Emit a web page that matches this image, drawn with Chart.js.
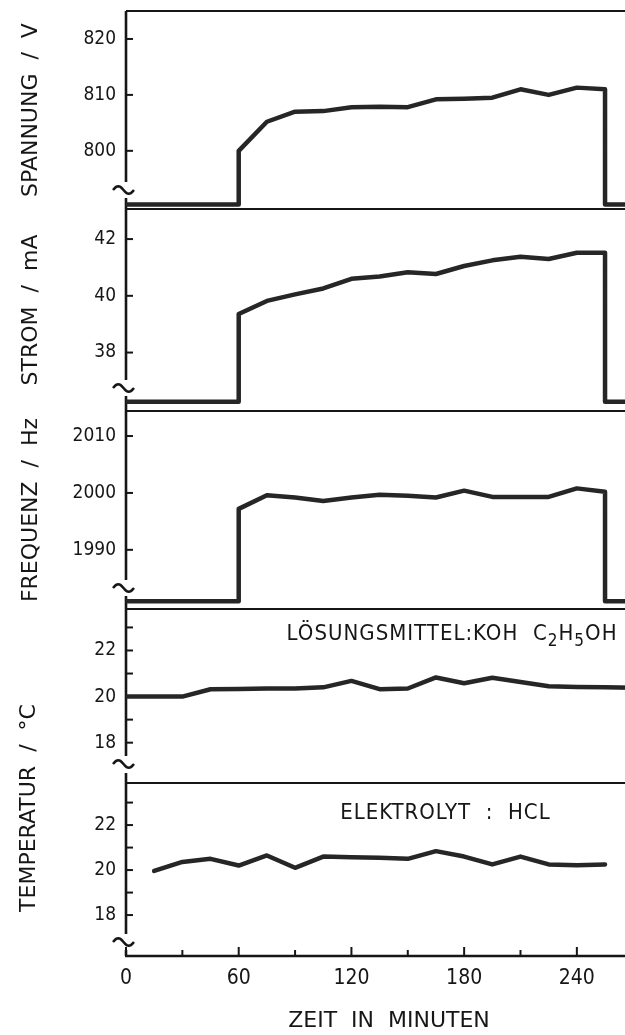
<!DOCTYPE html>
<html lang="de">
<head>
<meta charset="utf-8">
<title>Spannung, Strom, Frequenz und Temperatur über der Zeit</title>
<script src="https://cdn.jsdelivr.net/npm/chart.js@4.4.1/dist/chart.umd.min.js"></script>
<style>
  html, body { margin: 0; padding: 0; background: #fff; overflow: hidden; }
  canvas { display: block; }
</style>
</head>
<body>
<canvas id="messung" width="652" height="1035"></canvas>
<script>
// Ablesezeitpunkte in Minuten (alle 15 min), Anlage läuft von 60 bis 255 min
var zeitEin = [60, 75, 90, 105, 120, 135, 150, 165, 180, 195, 210, 225, 240, 255];
var spannung = [800.0, 805.2, 807.0, 807.1, 807.8, 807.9, 807.8, 809.2, 809.3, 809.5, 811.0, 810.0, 811.3, 811.0];
var strom = [39.36, 39.82, 40.05, 40.26, 40.6, 40.68, 40.83, 40.77, 41.05, 41.25, 41.38, 41.3, 41.52, 41.52];
var frequenz = [1997.2, 1999.6, 1999.2, 1998.6, 1999.2, 1999.7, 1999.5, 1999.2, 2000.4, 1999.3, 1999.3, 1999.3, 2000.8, 2000.2];

// Anzeige unterhalb des Achsenbruchs, solange nichts anliegt
var spannungAus = 790.4;
var stromAus = 36.27;
var frequenzAus = 1980.95;
var anfang = 0;
var ende = 280;

// Temperaturen
var zeitLoesung = [0, 15, 30, 45, 60, 75, 90, 105, 120, 135, 150, 165, 180, 195, 210, 225, 240, 255, 270];
var tempLoesung = [20.0, 20.0, 20.0, 20.32, 20.33, 20.35, 20.35, 20.4, 20.68, 20.32, 20.35, 20.83, 20.58, 20.82, 20.63, 20.45, 20.42, 20.4, 20.38];
var zeitElektrolyt = [15, 30, 45, 60, 75, 90, 105, 120, 135, 150, 165, 180, 195, 210, 225, 240, 255];
var tempElektrolyt = [19.96, 20.36, 20.5, 20.2, 20.65, 20.1, 20.6, 20.57, 20.55, 20.5, 20.84, 20.6, 20.25, 20.6, 20.25, 20.21, 20.25];

// Achsenteilung
var zeitTicks = [0, 30, 60, 90, 120, 150, 180, 210, 240, 270];
var zeitLabels = [0, 60, 120, 180, 240];
var spannungTicks = [800, 810, 820];
var stromTicks = [38, 40, 42];
var frequenzTicks = [1990, 2000, 2010];
var tempTicks = [18, 19, 20, 21, 22, 23];
var tempLabels = [18, 20, 22];

var schrift = "'DejaVu Sans Condensed', 'DejaVu Sans', sans-serif";
var titelSchrift = "'DejaVu Sans', sans-serif";
var tinte = '#161616';

// Stufe: Ruhewert, Sprung beim Einschalten, Messwerte, Abfall beim Ausschalten
function stufe(zeiten, werte, aus) {
    var pkt = [{x: anfang, y: aus}, {x: zeiten[0], y: aus}];
    for (var i = 0; i < zeiten.length; i++) {
        pkt.push({x: zeiten[i], y: werte[i]});
    }
    pkt.push({x: zeiten[zeiten.length - 1], y: aus});
    pkt.push({x: ende, y: aus});
    return pkt;
}

function punkte(zeiten, werte) {
    return zeiten.map(function (t, i) { return {x: t, y: werte[i]}; });
}

// die fünf Teilbilder von oben nach unten
var panels = [
    {id: 'ySpannung', titel: 'SPANNUNG  /  V', min: 789.6, max: 825.0, ticks: spannungTicks, labels: spannungTicks, hoehe: 198, bruch: 19, unten: true},
    {id: 'yStrom', titel: 'STROM  /  mA', min: 35.94, max: 43.06, ticks: stromTicks, labels: stromTicks, hoehe: 202, bruch: 23, unten: true},
    {id: 'yFrequenz', titel: 'FREQUENZ  /  Hz', min: 1979.6, max: 2014.4, ticks: frequenzTicks, labels: frequenzTicks, hoehe: 198, bruch: 21, unten: true},
    {id: 'yLoesung', titel: '', min: 16.25, max: 23.8, ticks: tempTicks, labels: tempLabels, hoehe: 174, bruch: 19, unten: false},
    {id: 'yElektrolyt', titel: '', min: 16.18, max: 23.87, ticks: tempTicks, labels: tempLabels, hoehe: 173, bruch: 14, unten: true, oben: 10}
];

var scales = {
    x: {
        type: 'linear',
        min: anfang,
        max: ende,
        afterBuildTicks: function (s) { s.ticks = zeitTicks.map(function (v) { return {value: v}; }); },
        afterFit: function (s) {
            s.height = 79;
            s.paddingLeft = 0;
            s.paddingRight = 0;
        },
        grid: {display: false, drawTicks: false},
        border: {display: false},
        ticks: {
            padding: 10, color: tinte, autoSkip: false, maxRotation: 0,
            font: {family: schrift, size: 21},
            callback: function (v) { return zeitLabels.indexOf(v) >= 0 ? String(v) : ''; }
        },
        title: {display: true, text: 'ZEIT  IN  MINUTEN', color: tinte, font: {family: titelSchrift, size: 22}, padding: {top: 0, bottom: 1}}
    }
};

panels.forEach(function (p, i) {
    scales[p.id] = {
        type: 'linear',
        position: 'left',
        stack: 'teilbilder',
        stackWeight: p.hoehe,
        weight: panels.length - i,
        min: p.min,
        max: p.max,
        afterBuildTicks: function (s) { s.ticks = p.ticks.map(function (v) { return {value: v}; }); },
        afterFit: function (s) {
            s.width = 126;
            // Beschriftungen dürfen über den Rand hinausragen
            s.paddingTop = 0;
            s.paddingBottom = 0;
        },
        grid: {display: false, drawTicks: false},
        border: {display: false},
        ticks: {
            padding: 10, color: tinte, autoSkip: false,
            font: {family: schrift, size: 19},
            callback: function (v) { return p.labels.indexOf(v) >= 0 ? String(v) : ''; }
        },
        title: {display: p.titel !== '', text: p.titel, color: tinte, font: {family: titelSchrift, size: 22}, padding: {top: 18, bottom: 0}}
    };
});

function linie(daten, achse) {
    return {
        data: daten,
        yAxisID: achse,
        borderColor: '#262626',
        borderWidth: 4.5,
        borderJoinStyle: 'round',
        borderCapStyle: 'round',
        pointRadius: 0,
        tension: 0,
        fill: false
    };
}

// Achsen mit Bruchzeichen, Rahmenlinien und nach innen zeigende Teilstriche
var rahmen = {
    id: 'rahmen',
    beforeDatasetsDraw: function (chart) {
        var ctx = chart.ctx;
        var ca = chart.chartArea;
        var links = ca.left;
        ctx.save();
        ctx.strokeStyle = tinte;
        ctx.lineCap = 'butt';

        panels.forEach(function (p) {
            var s = chart.scales[p.id];
            // obere Begrenzung
            ctx.lineWidth = 2;
            ctx.beginPath();
            ctx.moveTo(links, s.top);
            ctx.lineTo(ca.right, s.top);
            ctx.stroke();

            // senkrechte Achse mit Lücke für das Bruchzeichen
            var by = s.bottom - p.bruch;
            ctx.lineWidth = 2.6;
            ctx.beginPath();
            ctx.moveTo(links, s.top - (p.oben || 0));
            ctx.lineTo(links, by - 8);
            if (p.unten) {
                ctx.moveTo(links, by + 8);
                ctx.lineTo(links, s.bottom);
            }
            ctx.stroke();

            // Bruchzeichen ~
            ctx.lineWidth = 2.6;
            ctx.beginPath();
            for (var k = 0; k <= 20; k++) {
                var t = k / 20;
                var px = links - 13 + 21 * t;
                var py = by - 3.8 * Math.sin(2 * Math.PI * t);
                if (k === 0) { ctx.moveTo(px, py); } else { ctx.lineTo(px, py); }
            }
            ctx.stroke();

            // Teilstriche
            ctx.lineWidth = 2;
            s.ticks.forEach(function (tk) {
                var y = s.getPixelForValue(tk.value);
                ctx.beginPath();
                ctx.moveTo(links, y);
                ctx.lineTo(links + 7, y);
                ctx.stroke();
            });
        });

        // Zeitachse
        var sx = chart.scales.x;
        ctx.lineWidth = 2.4;
        ctx.beginPath();
        ctx.moveTo(links - 1, ca.bottom);
        ctx.lineTo(ca.right, ca.bottom);
        ctx.stroke();
        ctx.lineWidth = 2;
        sx.ticks.forEach(function (tk) {
            var x = sx.getPixelForValue(tk.value);
            var len = zeitLabels.indexOf(tk.value) >= 0 ? 9 : 6;
            ctx.beginPath();
            ctx.moveTo(x, ca.bottom);
            ctx.lineTo(x, ca.bottom - len);
            ctx.stroke();
        });
        ctx.restore();
    },
    afterDraw: function (chart) {
        var ctx = chart.ctx;
        var sx = chart.scales.x;
        ctx.save();
        ctx.fillStyle = tinte;

        // gemeinsame Beschriftung der beiden Temperaturbilder
        ctx.font = '22px ' + titelSchrift;
        ctx.textAlign = 'center';
        ctx.textBaseline = 'middle';
        ctx.translate(29, 808);
        ctx.rotate(-Math.PI / 2);
        ctx.fillText('TEMPERATUR  /  °C', 0, 0);
        ctx.setTransform(1, 0, 0, 1, 0, 0);

        // Versuchsbedingungen, Indizes tiefgestellt
        ctx.textAlign = 'left';
        ctx.textBaseline = 'alphabetic';
        ctx.letterSpacing = '1px';
        function schreibe(teile, x, y) {
            teile.forEach(function (t) {
                ctx.font = (t[1] ? '17px ' : '22px ') + schrift;
                ctx.fillText(t[0], x, y + (t[1] ? 6 : 0));
                x += ctx.measureText(t[0]).width;
            });
        }
        var yL = chart.scales.yLoesung;
        schreibe([['LÖSUNGSMITTEL:KOH  C', false], ['2', true], ['H', false], ['5', true], ['OH', false]],
            sx.getPixelForValue(85.5), yL.getPixelForValue(22.45));
        var yE = chart.scales.yElektrolyt;
        schreibe([['ELEKTROLYT  :  HCL', false]],
            sx.getPixelForValue(114), yE.getPixelForValue(22.25));
        ctx.restore();
    }
};

new Chart(document.getElementById('messung'), {
    type: 'line',
    data: {
        datasets: [
            linie(stufe(zeitEin, spannung, spannungAus), 'ySpannung'),
            linie(stufe(zeitEin, strom, stromAus), 'yStrom'),
            linie(stufe(zeitEin, frequenz, frequenzAus), 'yFrequenz'),
            linie(punkte(zeitLoesung, tempLoesung), 'yLoesung'),
            linie(punkte(zeitElektrolyt, tempElektrolyt), 'yElektrolyt')
        ]
    },
    options: {
        responsive: false,
        animation: false,
        events: [],
        layout: {padding: {top: 11, left: 0, right: 0, bottom: 0}},
        plugins: {legend: {display: false}, tooltip: {enabled: false}},
        scales: scales
    },
    plugins: [rahmen]
});
</script>
</body>
</html>
